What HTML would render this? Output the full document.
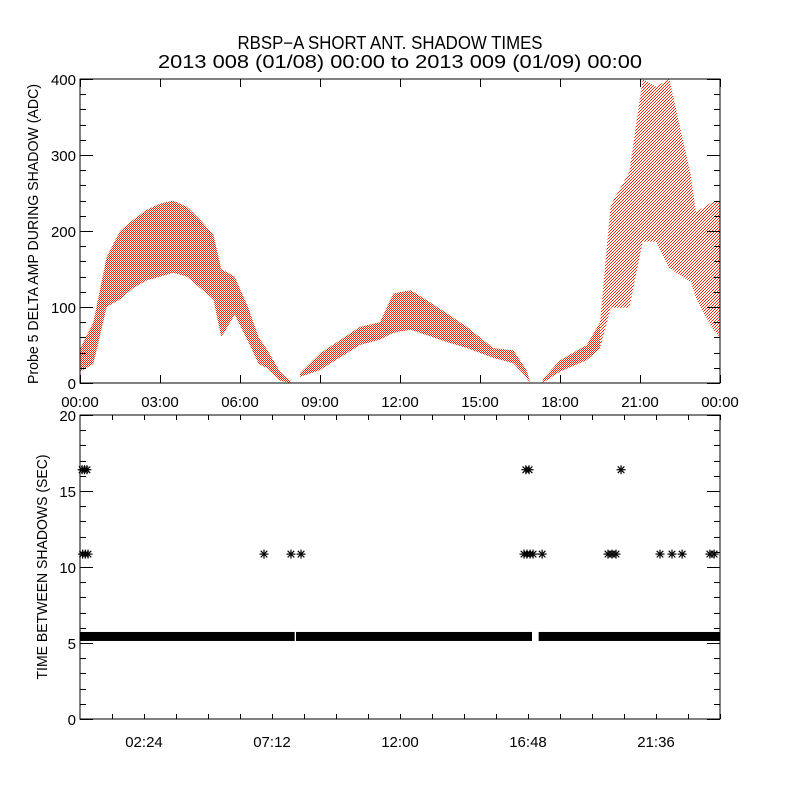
<!DOCTYPE html>
<html><head><meta charset="utf-8"><title>RBSP-A Short Ant. Shadow Times</title>
<style>html,body{margin:0;padding:0;background:#fff}svg{display:block;font-family:"Liberation Sans",sans-serif}</style>
</head><body>
<svg id="chart" width="800" height="800" viewBox="0 0 800 800" xmlns="http://www.w3.org/2000/svg">
<defs>
<pattern id="dense" width="2" height="2" patternUnits="userSpaceOnUse"><rect x="0" y="0" width="1" height="1" fill="#ff2200"/><rect x="1" y="1" width="1" height="1" fill="#ff2200"/></pattern>
<pattern id="sparse" width="3" height="3" patternUnits="userSpaceOnUse"><rect x="0" y="0" width="1" height="1" fill="#ff2200"/><rect x="2" y="1" width="1" height="1" fill="#ff2200"/><rect x="1" y="2" width="1" height="1" fill="#ff2200"/></pattern>
</defs>
<rect width="800" height="800" fill="#fff"/>
<text x="390" y="49" font-size="18" text-anchor="middle" textLength="305" lengthAdjust="spacingAndGlyphs">RBSP−A SHORT ANT. SHADOW TIMES</text>
<text x="400" y="68" font-size="18" text-anchor="middle" textLength="484" lengthAdjust="spacingAndGlyphs">2013 008 (01/08) 00:00 to 2013 009 (01/09) 00:00</text>
<g id="top"></g>
<g id="bot"></g>
</svg>
<script>
// Top panel envelope data: [hour, low ADC, high ADC]
const seg1Hours = [0.0,0.5,1.0,1.5,2.0,2.5,3.0,3.5,4.0,4.5,5.0,5.3,5.8,6.3,6.7,7.0,7.5,7.9];
const seg1Low   = [15,25,100,110,125,135,140,145,140,125,110,60,90,55,25,20,3,0];
const seg1High  = [45,80,166,200,215,228,236,240,232,215,195,150,140,100,60,45,15,3];
const seg2Hours = [8.25,9.0,10.5,11.25,11.75,12.4,13.0,13.75,14.5,15.5,16.25,16.75,16.85];
const seg2Low   = [8,17,50,57,66,70,63,54,46,33,26,7,0];
const seg2High  = [13,39,74,80,118,122,109,92,74,46,43,17,5];
const seg3aHours = [17.35,18.0,19.0,19.5];
const seg3aLow   = [0,15,30,45];
const seg3aHigh  = [5,30,50,80];
const seg3bHours = [19.5,19.9,20.6,21.1,21.6,22.1,22.9,23.1,23.7,24.0];
const seg3bLow   = [45,99,99,186,186,151,133,112,72,60];
const seg3bHigh  = [80,234,278,400,390,400,274,225,238,240];
const topYTicks = [0,100,200,300,400];
const topXLabels = ["00:00","03:00","06:00","09:00","12:00","15:00","18:00","21:00","00:00"];

// Bottom panel data
const bandStart = [0.0,8.1,17.2];
const bandEnd   = [8.05,16.95,24.0];
const bandValue = [5.43,5.43,5.43];
const starHours = [0.1,0.2,0.3,6.9,7.91,8.29,16.65,16.76,16.88,16.99,17.33,19.8,19.95,20.1,21.75,22.2,22.58,23.62,23.78,0.08,0.17,0.26,16.72,16.84,20.29];
const starValues= [10.85,10.85,10.85,10.85,10.85,10.85,10.85,10.85,10.85,10.85,10.85,10.85,10.85,10.85,10.85,10.85,10.85,10.85,10.85,16.4,16.4,16.4,16.4,16.4,16.4];
const botYTicks = [0,5,10,15,20];
const botXHours = [2.4,7.2,12.0,16.8,21.6];
const botXLabels = ["02:24","07:12","12:00","16:48","21:36"];

const NS="http://www.w3.org/2000/svg";
function mk(parent,tag,attrs){const e=document.createElementNS(NS,tag);for(const k in attrs)e.setAttribute(k,attrs[k]);parent.appendChild(e);return e;}
const L=80,R=720;
const xs=h=>L+(R-L)*h/24;
const T1=79,B1=383; const y1=v=>B1-(B1-T1)*v/400;
const T2=415,B2=719; const y2=v=>B2-(B2-T2)*v/20;

const topG=document.getElementById('top');
function band(hours,lo,hi,fill,name){
  let pts=[];
  for(let i=0;i<hours.length;i++)pts.push(xs(hours[i])+','+y1(hi[i]));
  for(let i=hours.length-1;i>=0;i--)pts.push(xs(hours[i])+','+y1(lo[i]));
  const p=mk(topG,'polygon',{points:pts.join(' '),fill:fill});
  
  
}
band(seg1Hours,seg1Low,seg1High,'url(#dense)','shadow-amp-cloud-1');
band(seg2Hours,seg2Low,seg2High,'url(#dense)','shadow-amp-cloud-2');
band(seg3aHours,seg3aLow,seg3aHigh,'url(#dense)','shadow-amp-cloud-3');
band(seg3bHours,seg3bLow,seg3bHigh,'url(#sparse)','shadow-amp-cloud-4');

// top axes
let f=mk(topG,'rect',{x:L,y:T1,width:R-L,height:B1-T1,fill:'none',stroke:'#000','stroke-width':1});


for(let v=0;v<=400;v+=20){
  const len=v%100===0?13:6;const y=Math.round(y1(v))+0.5;
  mk(topG,'line',{x1:L,x2:L+len,y1:y,y2:y,stroke:'#000'});
  mk(topG,'line',{x1:R,x2:R-len,y1:y,y2:y,stroke:'#000'});
}
topYTicks.forEach(v=>{const t=mk(topG,'text',{x:L-4,y:y1(v)+6,'font-size':15,'text-anchor':'end'});t.textContent=v;

});
topXLabels.forEach((s,i)=>{const x=Math.round(xs(i*3))+0.5;
  mk(topG,'line',{x1:x,x2:x,y1:B1,y2:B1-8,stroke:'#000'});
  mk(topG,'line',{x1:x,x2:x,y1:T1,y2:T1+8,stroke:'#000'});
  const t=mk(topG,'text',{x:xs(i*3),y:407,'font-size':15,'text-anchor':'middle'});t.textContent=s;
  
  });
let yt=mk(topG,'text',{x:0,y:0,'font-size':15,'text-anchor':'middle',textLength:300,lengthAdjust:'spacingAndGlyphs',transform:'translate(38,234) rotate(-90)'});
yt.textContent='Probe 5 DELTA AMP DURING SHADOW (ADC)';



// bottom panel
const botG=document.getElementById('bot');
for(let i=0;i<bandStart.length;i++){
  const r=mk(botG,'rect',{x:xs(bandStart[i]),y:y2(bandValue[i])-4.5,width:xs(bandEnd[i])-xs(bandStart[i]),height:9,fill:'#000'});
  
  
}
for(let i=0;i<starHours.length;i++){
  const cx=xs(starHours[i]),cy=y2(starValues[i]);
  const g=mk(botG,'g',{stroke:'#000','stroke-width':1.2});
  
  
  mk(g,'line',{x1:cx-4.5,x2:cx+4.5,y1:cy,y2:cy});
  mk(g,'line',{x1:cx,x2:cx,y1:cy-4.5,y2:cy+4.5});
  mk(g,'line',{x1:cx-3.3,x2:cx+3.3,y1:cy-3.3,y2:cy+3.3});
  mk(g,'line',{x1:cx-3.3,x2:cx+3.3,y1:cy+3.3,y2:cy-3.3});
}
f=mk(botG,'rect',{x:L,y:T2,width:R-L,height:B2-T2,fill:'none',stroke:'#000','stroke-width':1});


for(let v=0;v<=20;v++){
  const len=v%5===0?13:6;const y=Math.round(y2(v))+0.5;
  mk(botG,'line',{x1:L,x2:L+len,y1:y,y2:y,stroke:'#000'});
  mk(botG,'line',{x1:R,x2:R-len,y1:y,y2:y,stroke:'#000'});
}
botYTicks.forEach(v=>{const t=mk(botG,'text',{x:L-4,y:y2(v)+6,'font-size':15,'text-anchor':'end'});t.textContent=v;

});
for(let h=1.2;h<24;h+=1.2){const x=Math.round(xs(h))+0.5;
  mk(botG,'line',{x1:x,x2:x,y1:B2,y2:B2-5,stroke:'#000'});
  mk(botG,'line',{x1:x,x2:x,y1:T2,y2:T2+5,stroke:'#000'});}
botXHours.forEach((h,i)=>{const t=mk(botG,'text',{x:xs(h),y:747,'font-size':15,'text-anchor':'middle'});t.textContent=botXLabels[i];

});
yt=mk(botG,'text',{x:0,y:0,'font-size':15,'text-anchor':'middle',textLength:225,lengthAdjust:'spacingAndGlyphs',transform:'translate(47,567) rotate(-90)'});
yt.textContent='TIME BETWEEN SHADOWS (SEC)';


</script>
</body></html>
